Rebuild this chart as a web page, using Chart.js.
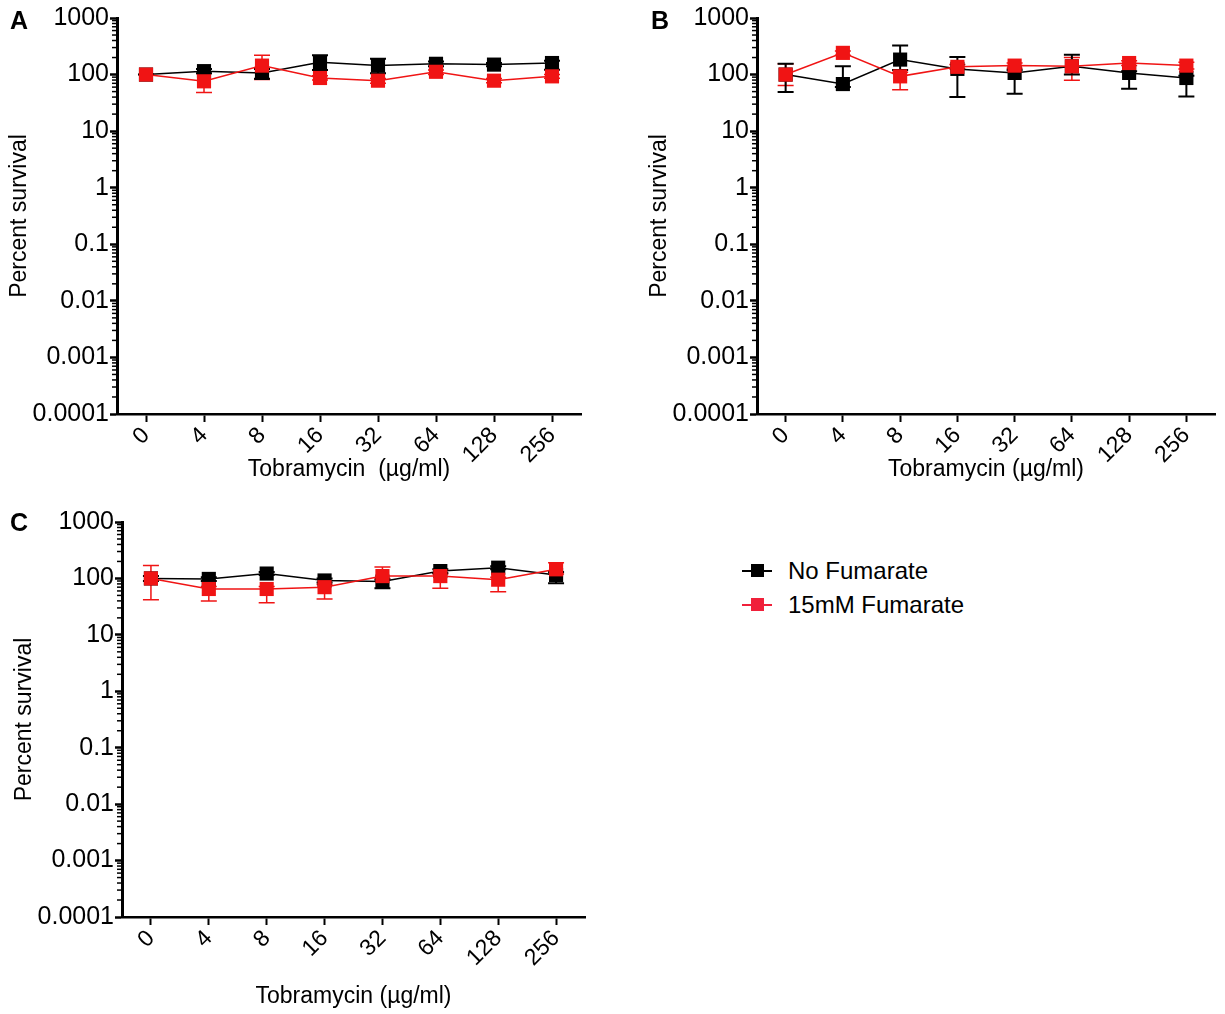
<!DOCTYPE html>
<html>
<head>
<meta charset="utf-8">
<script src="https://cdn.jsdelivr.net/npm/chart.js@4.4.1/dist/chart.umd.min.js"></script>
<style>
  body { margin: 0; background: #fff; font-family: "Liberation Sans", Arial, sans-serif; }
  #wrap { position: relative; width: 1225px; height: 1014px; }
  canvas { position: absolute; }
  .letter { position: absolute; font-weight: bold; font-size: 25px; color: #000; }
  .legend { position: absolute; left: 740px; top: 556px; font-size: 24px; color: #000; }
  .legend div { position: relative; height: 34px; line-height: 30px; padding-left: 48px; }
  .legend i { position: absolute; left: 2px; top: 14px; width: 30px; height: 2px; }
  .legend b { position: absolute; left: 11px; top: 8px; width: 13px; height: 13px; }
</style>
</head>
<body>
<div id="wrap">
  <canvas id="chartA" width="600" height="500" style="left:0;top:0"></canvas>
  <canvas id="chartB" width="585" height="500" style="left:640px;top:0"></canvas>
  <canvas id="chartC" width="600" height="509" style="left:0;top:505px"></canvas>
  <div class="letter" style="left:10px;top:6px">A</div>
  <div class="letter" style="left:651px;top:6px">B</div>
  <div class="letter" style="left:10px;top:508px">C</div>
  <div class="legend">
    <div><i style="background:#000"></i><b style="background:#000"></b>No Fumarate</div>
    <div><i style="background:#f0203a"></i><b style="background:#f0203a"></b>15mM Fumarate</div>
  </div>
</div>
<script>
// x categories (tobramycin ug/ml) and y decade ticks
var doses = ['0', '4', '8', '16', '32', '64', '128', '256'];
var yTickValues = [0.0001, 0.001, 0.01, 0.1, 1, 10, 100, 1000];
var yTickLabels = ['0.0001', '0.001', '0.01', '0.1', '1', '10', '100', '1000'];

// Panel A
var aNoFum     = [100, 115, 107, 165, 144, 155, 150, 160];
var aNoFumHi   = [100, 125, 125, 220, 190, 170, 160, 175];
var aNoFumLo   = [100, 105, 84, 120, 105, 140, 140, 122];
var aFum       = [100, 76, 144, 87, 78, 112, 78, 93];
var aFumHi     = [100, 104, 219, 95, 85, 120, 85, 100];
var aFumLo     = [100, 48, 82, 80, 70, 100, 72, 86];

// Panel B
var bNoFum     = [100, 68, 184, 126, 107, 140, 107, 87];
var bNoFumHi   = [156, 140, 325, 205, 120, 223, 115, 95];
var bNoFumLo   = [49, 60, 120, 40, 46, 100, 56, 41];
var bFum       = [100, 242, 93, 137, 144, 140, 160, 144];
var bFumHi     = [156, 260, 110, 150, 160, 200, 175, 165];
var bFumLo     = [64, 220, 54, 125, 130, 79, 145, 125];

// Panel C
var cNoFum     = [100, 98, 122, 92, 88, 135, 155, 115];
var cNoFumHi   = [110, 105, 130, 100, 95, 145, 165, 130];
var cNoFumLo   = [90, 90, 115, 85, 67, 125, 145, 82];
var cFum       = [100, 65, 65, 70, 110, 110, 95, 145];
var cFumHi     = [170, 72, 72, 78, 160, 120, 105, 190];
var cFumLo     = [42, 40, 37, 43, 100, 67, 58, 120];

var RED = '#f01414';

Chart.defaults.font.family = '"Liberation Sans", Arial, sans-serif';
Chart.defaults.color = '#000';

// error bars drawn under the markers
var errorBars = {
  id: 'errorBars',
  beforeDatasetsDraw: function(chart) {
    var ctx = chart.ctx, y = chart.scales.y;
    chart.data.datasets.forEach(function(ds, i) {
      var meta = chart.getDatasetMeta(i);
      ctx.save();
      ctx.strokeStyle = ds.borderColor;
      ctx.lineWidth = ds.errWidth;
      meta.data.forEach(function(pt, j) {
        var yh = y.getPixelForValue(ds.hi[j]);
        var yl = y.getPixelForValue(ds.lo[j]);
        ctx.beginPath();
        ctx.moveTo(pt.x, yh); ctx.lineTo(pt.x, yl);
        ctx.moveTo(pt.x - 8, yh); ctx.lineTo(pt.x + 8, yh);
        ctx.moveTo(pt.x - 8, yl); ctx.lineTo(pt.x + 8, yl);
        ctx.stroke();
      });
      ctx.restore();
    });
  }
};

// minor log ticks on the y axis
var minorTicks = {
  id: 'minorTicks',
  afterDraw: function(chart) {
    var ctx = chart.ctx, y = chart.scales.y, x0 = chart.chartArea.left;
    ctx.save();
    ctx.strokeStyle = '#000';
    ctx.lineWidth = 1.5;
    for (var d = -4; d < 3; d++) {
      for (var k = 2; k < 10; k++) {
        var py = y.getPixelForValue(k * Math.pow(10, d));
        ctx.beginPath();
        ctx.moveTo(x0 - 5, py); ctx.lineTo(x0, py);
        ctx.stroke();
      }
    }
    ctx.restore();
  }
};

function makeChart(id, noFum, noFumHi, noFumLo, fum, fumHi, fumLo, g) {
  return new Chart(document.getElementById(id), {
    type: 'line',
    data: {
      labels: doses,
      datasets: [
        {
          label: '15mM Fumarate', data: fum, hi: fumHi, lo: fumLo,
          borderColor: RED, backgroundColor: RED, borderWidth: 1.5, errWidth: 1.5,
          pointStyle: 'rect', pointRadius: 10, pointBorderWidth: 0
        },
        {
          label: 'No Fumarate', data: noFum, hi: noFumHi, lo: noFumLo,
          borderColor: '#000', backgroundColor: '#000', borderWidth: 1.5, errWidth: 2,
          pointStyle: 'rect', pointRadius: 10, pointBorderWidth: 0
        }
      ]
    },
    options: {
      responsive: false,
      animation: false,
      clip: false,
      layout: { padding: { top: g.top, right: g.right, left: 0, bottom: 0 } },
      plugins: { legend: { display: false }, tooltip: { enabled: false } },
      scales: {
        x: {
          type: 'category',
          offset: true,
          afterFit: function(s) { s.height = g.xh; },
          border: { color: '#000', width: 2.5 },
          grid: { display: true, drawOnChartArea: false, offset: false, tickLength: 8, tickWidth: 2, tickColor: '#000' },
          ticks: { minRotation: 45, maxRotation: 45, padding: 0, font: { size: 23 } },
          title: { display: true, text: g.xTitle, font: { size: 23 }, padding: { bottom: g.xPad } }
        },
        y: {
          type: 'logarithmic',
          min: 0.0001, max: 1000,
          afterFit: function(s) { s.width = g.yw; },
          afterBuildTicks: function(s) {
            s.ticks = yTickValues.map(function(v) { return { value: v, major: true }; });
          },
          border: { color: '#000', width: 3 },
          grid: { display: true, drawOnChartArea: false, tickLength: 7, tickWidth: 2.5, tickColor: '#000' },
          ticks: {
            padding: 1, font: { size: 25 }, autoSkip: false,
            callback: function(v, i) { return yTickLabels[i]; }
          },
          title: { display: true, text: 'Percent survival', font: { size: 23 }, padding: { top: g.yPad } }
        }
      }
    },
    plugins: [errorBars, minorTicks]
  });
}

makeChart('chartA', aNoFum, aNoFumHi, aNoFumLo, aFum, aFumHi, aFumLo,
  { top: 18, right: 19, xh: 86, yw: 117, xPad: 17, yPad: 6, xTitle: 'Tobramycin  (\u00b5g/ml)' });
makeChart('chartB', bNoFum, bNoFumHi, bNoFumLo, bFum, bFumHi, bFumLo,
  { top: 18, right: 2, xh: 86, yw: 117, xPad: 17, yPad: 6, xTitle: 'Tobramycin (\u00b5g/ml)' });
makeChart('chartC', cNoFum, cNoFumHi, cNoFumLo, cFum, cFumHi, cFumLo,
  { top: 17, right: 15, xh: 97, yw: 122, xPad: 4, yPad: 11, xTitle: 'Tobramycin (\u00b5g/ml)' });
</script>
</body>
</html>
